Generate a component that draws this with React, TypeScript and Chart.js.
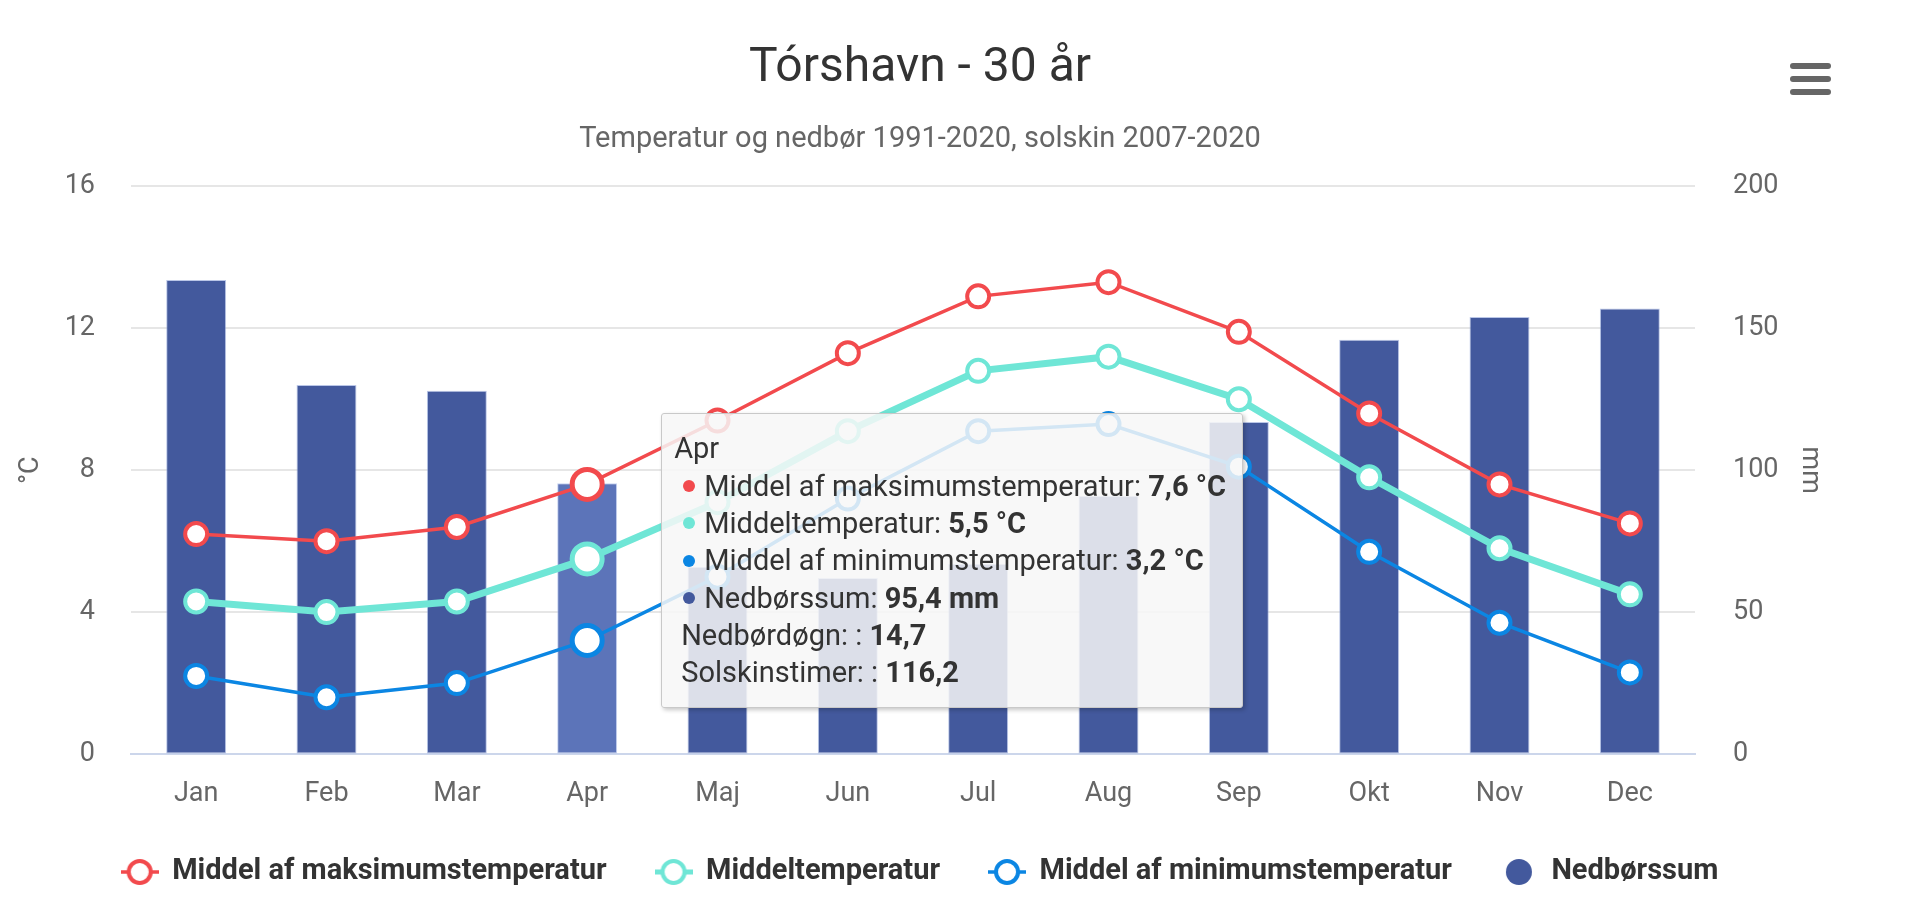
import React, { useEffect, useRef } from 'react';
import { Chart, registerables } from 'chart.js';

Chart.register(...registerables);

// ---------- data ----------
const months = ['Jan', 'Feb', 'Mar', 'Apr', 'Maj', 'Jun', 'Jul', 'Aug', 'Sep', 'Okt', 'Nov', 'Dec'];
const maxTemp = [6.2, 6.0, 6.4, 7.6, 9.4, 11.3, 12.9, 13.3, 11.9, 9.6, 7.6, 6.5];
const meanTemp = [4.3, 4.0, 4.3, 5.5, 7.1, 9.1, 10.8, 11.2, 10.0, 7.8, 5.8, 4.5];
const minTemp = [2.2, 1.6, 2.0, 3.2, 5.0, 7.2, 9.1, 9.3, 8.1, 5.7, 3.7, 2.3];
const precipitation = [167, 130, 128, 95.4, 66, 62, 67, 91, 117, 146, 154, 157];
// only the hovered month's extras are readable in the picture
const rainDays: (number | null)[] = [null, null, null, 14.7, null, null, null, null, null, null, null, null];
const sunHours: (number | null)[] = [null, null, null, 116.2, null, null, null, null, null, null, null, null];
const tempTicks = { min: 0, max: 16, step: 4 };
const precipTicks = { min: 0, max: 200, step: 50 };
const hoveredIndex = 3;

const titleText = 'Tórshavn - 30 år';
const subtitleText = 'Temperatur og nedbør 1991-2020, solskin 2007-2020';

// ---------- styles ----------
const RED = '#f24a4d';
const TEAL = '#6fe6d6';
const BLUE = '#0b86e3';
const NAVY = '#43599d';
const NAVY_HOVER = '#5c74b9';
const FONT = 'Roboto';

const fmt = (v: number) => v.toFixed(1).replace('.', ',');

function makeLineSymbol(color: string, lw: number) {
  const c = document.createElement('canvas');
  c.width = 38;
  c.height = 32;
  const g = c.getContext('2d')!;
  g.strokeStyle = color;
  g.lineWidth = lw;
  g.beginPath();
  g.moveTo(0, 16);
  g.lineTo(38, 16);
  g.stroke();
  g.beginPath();
  g.arc(19, 16, 11, 0, Math.PI * 2);
  g.fillStyle = '#fff';
  g.fill();
  g.lineWidth = 4;
  g.stroke();
  return c;
}

function makeBarSymbol(color: string) {
  const c = document.createElement('canvas');
  c.width = 38;
  c.height = 32;
  const g = c.getContext('2d')!;
  g.fillStyle = color;
  g.beginPath();
  g.arc(19, 16, 13, 0, Math.PI * 2);
  g.fill();
  return c;
}

const menuIcon = {
  id: 'menuIcon',
  afterDraw(chart: any) {
    const c = chart.ctx;
    c.save();
    c.strokeStyle = '#666';
    c.lineWidth = 6;
    c.lineCap = 'round';
    [66, 79, 92].forEach((y) => {
      c.beginPath();
      c.moveTo(1793, y);
      c.lineTo(1828, y);
      c.stroke();
    });
    c.restore();
  },
};

export default function App() {
  const canvasRef = useRef<HTMLCanvasElement | null>(null);
  const tipRef = useRef<HTMLDivElement | null>(null);

  useEffect(() => {
    document.body.style.margin = '0';
    const canvas = canvasRef.current!;
    const symbols = [makeLineSymbol(RED, 3.5), makeLineSymbol(TEAL, 5), makeLineSymbol(BLUE, 3.5), makeBarSymbol(NAVY)];

    const external = (context: any) => {
      const { chart, tooltip } = context;
      const el = tipRef.current;
      if (!el) return;
      if (tooltip.opacity === 0 || !tooltip.dataPoints || !tooltip.dataPoints.length) {
        el.style.opacity = '0';
        return;
      }
      const idx = tooltip.dataPoints[0].dataIndex;
      let html = `<div class="tt-row">${months[idx]}</div>`;
      tooltip.dataPoints.forEach((p: any) => {
        const ds = p.dataset;
        const unit = ds.yAxisID === 'y1' ? 'mm' : '°C';
        const col = ds.type === 'bar' ? NAVY : ds.borderColor;
        html += `<div class="tt-row"><span class="tt-dot" style="background:${col}"></span>${ds.label}: <b>${fmt(p.raw)} ${unit}</b></div>`;
      });
      if (rainDays[idx] != null) html += `<div class="tt-row tt-extra">Nedbørdøgn: : <b>${fmt(rainDays[idx] as number)}</b></div>`;
      if (sunHours[idx] != null) html += `<div class="tt-row tt-extra">Solskinstimer: : <b>${fmt(sunHours[idx] as number)}</b></div>`;
      el.innerHTML = html;
      el.style.left = `${tooltip.caretX + 74}px`;
      el.style.top = `${chart.chartArea.top + 227}px`;
      el.style.opacity = '1';
    };

    const lineBase = (color: string, width: number) => ({
      type: 'line' as const,
      yAxisID: 'y',
      borderColor: color,
      backgroundColor: color,
      borderWidth: width,
      pointRadius: 11,
      pointBorderWidth: 4,
      pointBackgroundColor: '#fff',
      pointBorderColor: color,
      pointHoverRadius: 15,
      pointHoverBorderWidth: 5,
      pointHoverBackgroundColor: '#fff',
      pointHoverBorderColor: color,
      tension: 0,
    });

    const tickFont = { family: FONT, size: 27 };

    const chart = new Chart(canvas, {
      data: {
        labels: months,
        datasets: [
          { ...lineBase(RED, 3.5), label: 'Middel af maksimumstemperatur', data: maxTemp, order: 1 },
          { ...lineBase(TEAL, 7), label: 'Middeltemperatur', data: meanTemp, order: 2 },
          { ...lineBase(BLUE, 3.5), label: 'Middel af minimumstemperatur', data: minTemp, order: 3 },
          {
            type: 'bar',
            label: 'Nedbørssum',
            data: precipitation,
            yAxisID: 'y1',
            backgroundColor: NAVY,
            hoverBackgroundColor: NAVY_HOVER,
            borderColor: 'rgba(140,160,215,0.6)',
            hoverBorderColor: 'rgba(160,180,230,0.6)',
            borderWidth: 1,
            borderSkipped: false,
            barPercentage: 0.5,
            categoryPercentage: 0.92,
            order: 4,
          } as any,
        ],
      },
      options: {
        animation: false,
        responsive: true,
        maintainAspectRatio: false,
        layout: { padding: { left: 0, right: 80, top: 0, bottom: 0.5 } },
        interaction: { mode: 'index', intersect: false },
        events: [],
        plugins: {
          title: {
            display: true,
            text: titleText,
            color: '#333',
            font: { family: FONT, size: 48, weight: 'normal', lineHeight: 1.2 },
            padding: { top: 40, bottom: 0 },
          },
          subtitle: {
            display: true,
            text: subtitleText,
            color: '#666',
            font: { family: FONT, size: 29, weight: 'normal', lineHeight: 1.2 },
            padding: { top: 25, bottom: 29 },
          },
          legend: {
            position: 'bottom',
            labels: {
              usePointStyle: true,
              pointStyleWidth: 36,
              padding: 49,
              color: '#333',
              font: { family: FONT, size: 29, weight: 'bold' },
              generateLabels: (ch: any) =>
                ch.data.datasets.map((ds: any, i: number) => ({
                  text: ds.label,
                  fillStyle: ds.backgroundColor,
                  strokeStyle: ds.borderColor,
                  lineWidth: 0,
                  pointStyle: symbols[i],
                  hidden: false,
                  datasetIndex: i,
                  fontColor: '#333',
                })),
            },
          },
          tooltip: { enabled: false, external, mode: 'index', intersect: false },
        },
        scales: {
          x: {
            offset: true,
            grid: { display: false, drawTicks: false },
            border: { display: true, color: '#ccd6eb', width: 2 },
            ticks: { color: '#666', font: tickFont, padding: 24 },
            afterFit: (s: any) => { s.height = 54.5; },
          },
          y: {
            position: 'left',
            min: tempTicks.min,
            max: tempTicks.max,
            ticks: { stepSize: tempTicks.step, color: '#666', font: tickFont, padding: 36 },
            grid: { color: '#e6e6e6', lineWidth: 2, drawTicks: false },
            border: { display: false },
            title: { display: true, text: '°C', color: '#666', font: tickFont, padding: { top: 15, bottom: 0 } },
            afterFit: (s: any) => { s.width = 131; },
          },
          y1: {
            position: 'right',
            min: precipTicks.min,
            max: precipTicks.max,
            ticks: { stepSize: precipTicks.step, color: '#666', font: tickFont, padding: 38 },
            grid: { drawOnChartArea: false, drawTicks: false },
            border: { display: false },
            title: { display: true, text: 'mm', color: '#666', font: tickFont, padding: { top: 14.5, bottom: 0 } },
            afterFit: (s: any) => { s.width = 145; },
          },
        },
      } as any,
      plugins: [menuIcon],
    });

    const active = [0, 1, 2, 3].map((d) => ({ datasetIndex: d, index: hoveredIndex }));
    chart.setActiveElements(active);
    chart.tooltip!.setActiveElements(active, { x: chart.scales.x.getPixelForValue(hoveredIndex), y: chart.chartArea.top + 300 });
    chart.update();

    return () => chart.destroy();
  }, []);

  return (
    <div style={{ position: 'absolute', left: 0, top: 0, width: 1920, height: 897, background: '#fff', fontFamily: FONT }}>
      <style>{`
        .tt-box { position:absolute; box-sizing:border-box; width:582px; padding:16px 12px; background:rgba(247,247,247,0.85);
          border:1px solid #c9c9c9; border-radius:3px; box-shadow:2px 2px 4px rgba(0,0,0,0.22); color:#333;
          font-family:${FONT}; font-size:29px; pointer-events:none; white-space:nowrap; }
        .tt-row { height:37.3px; line-height:37.3px; }
        .tt-dot { display:inline-block; width:12px; height:12px; border-radius:50%; margin:0 9px 0 9px; vertical-align:middle; position:relative; top:-2px; }
        .tt-extra { padding-left:7px; }
        .tt-box b { font-weight:bold; }
      `}</style>
      <canvas ref={canvasRef} />
      <div ref={tipRef} className="tt-box" style={{ opacity: 0 }} />
    </div>
  );
}
